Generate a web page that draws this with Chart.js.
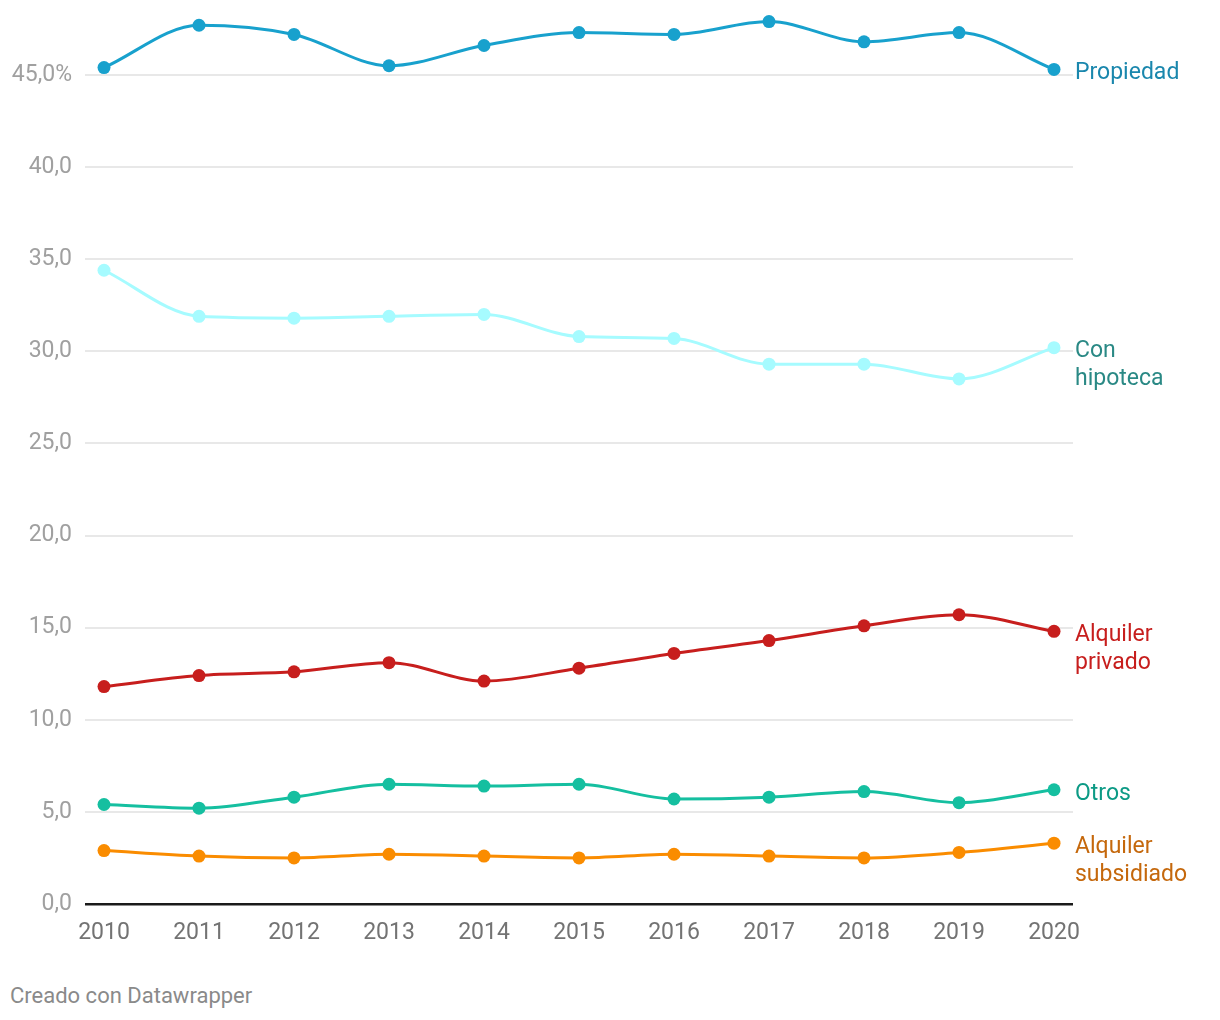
<!DOCTYPE html>
<html>
<head>
<meta charset="utf-8">
<script src="https://cdn.jsdelivr.net/npm/chart.js@4"></script>
<style>
    html, body { margin: 0; padding: 0; background: #fff; }
    #wrap { position: relative; width: 1220px; height: 1020px; }
    #footer { position: absolute; left: 10px; top: 983px; font: 22px Roboto, sans-serif; color: #8a8a8a; }
</style>
</head>
<body>
<div id="wrap">
    <canvas id="myChart" width="1220" height="960"></canvas>
    <div id="footer">Creado con Datawrapper</div>
</div>
<script>
    "use strict";

    const years = [2010, 2011, 2012, 2013, 2014, 2015, 2016, 2017, 2018, 2019, 2020];
    const propiedad = [45.4, 47.7, 47.2, 45.5, 46.6, 47.3, 47.2, 47.9, 46.8, 47.3, 45.3];
    const conHipoteca = [34.4, 31.9, 31.8, 31.9, 32.0, 30.8, 30.7, 29.3, 29.3, 28.5, 30.2];
    const alquilerPrivado = [11.8, 12.4, 12.6, 13.1, 12.1, 12.8, 13.6, 14.3, 15.1, 15.7, 14.8];
    const otros = [5.4, 5.2, 5.8, 6.5, 6.4, 6.5, 5.7, 5.8, 6.1, 5.5, 6.2];
    const alquilerSubsidiado = [2.9, 2.6, 2.5, 2.7, 2.6, 2.5, 2.7, 2.6, 2.5, 2.8, 3.3];
    const yTicks = [0, 5, 10, 15, 20, 25, 30, 35, 40, 45];
    const yTickLabels = ['0,0', '5,0', '10,0', '15,0', '20,0', '25,0', '30,0', '35,0', '40,0', '45,0%'];

    // series: name (end label lines), line colour, label colour
    const series = [
        { lines: ['Propiedad'], values: propiedad, color: '#18a1cd', text: '#1a87ad' },
        { lines: ['Con', 'hipoteca'], values: conHipoteca, color: '#a6fbff', text: '#2a8985' },
        { lines: ['Alquiler', 'privado'], values: alquilerPrivado, color: '#c71e1d', text: '#c71e1d' },
        { lines: ['Otros'], values: otros, color: '#15bfa0', text: '#0c9a85' },
        { lines: ['Alquiler', 'subsidiado'], values: alquilerSubsidiado, color: '#fa8c00', text: '#c5680c' }
    ];

    const endLabels = {
        id: 'endLabels',
        afterDatasetsDraw(chart) {
            const ctx = chart.ctx;
            ctx.save();
            ctx.font = '23px Roboto';
            ctx.textAlign = 'left';
            ctx.textBaseline = 'middle';
            chart.data.datasets.forEach((ds, i) => {
                const pts = chart.getDatasetMeta(i).data;
                const last = pts[pts.length - 1];
                ctx.fillStyle = series[i].text;
                series[i].lines.forEach((t, j) => {
                    ctx.fillText(t, 1075, last.y + 4 + j * 28);
                });
            });
            ctx.restore();
        }
    };

    var ctx = document.getElementById('myChart');
    var chart = new Chart(ctx, {
        type: 'line',
        data: {
            datasets: series.map(s => ({
                label: s.lines.join(' '),
                data: years.map((y, k) => ({ x: y, y: s.values[k] })),
                borderColor: s.color,
                backgroundColor: s.color,
                borderWidth: 3,
                pointRadius: 6.5,
                pointBorderWidth: 0,
                pointBackgroundColor: s.color,
                cubicInterpolationMode: 'monotone',
                clip: false
            }))
        },
        options: {
            responsive: false,
            animation: false,
            layout: { autoPadding: false, padding: { top: 19.7, right: 147, left: 0, bottom: 0 } },
            plugins: {
                legend: { display: false },
                tooltip: { enabled: false }
            },
            scales: {
                x: {
                    type: 'linear',
                    min: 2009.8,
                    max: 2020.2,
                    afterBuildTicks: (scale) => { scale.ticks = years.map(v => ({ value: v })); },
                    afterFit: (scale) => { scale.height = 56; scale.paddingLeft = 0; scale.paddingRight = 0; },
                    grid: { display: false },
                    border: { display: false },
                    ticks: {
                        autoSkip: false,
                        maxRotation: 0,
                        padding: 7,
                        color: '#737373',
                        font: { family: 'Roboto', size: 23 },
                        callback: (v) => String(v)
                    }
                },
                y: {
                    min: 0,
                    max: 48,
                    afterBuildTicks: (scale) => { scale.ticks = yTicks.map(v => ({ value: v })); },
                    afterFit: (scale) => { scale.width = 85; scale.paddingTop = 0; scale.paddingBottom = 0; },
                    border: { display: false },
                    grid: {
                        drawTicks: false,
                        color: (c) => c.tick && c.tick.value === 0 ? '#1a1a1a' : '#e8e8e8',
                        lineWidth: (c) => c.tick && c.tick.value === 0 ? 2.4 : 2
                    },
                    ticks: {
                        padding: 13,
                        color: '#a0a0a0',
                        font: { family: 'Roboto', size: 23 },
                        callback: (v) => yTickLabels[yTicks.indexOf(v)]
                    }
                }
            }
        },
        plugins: [endLabels]
    });
</script>
</body>
</html>
